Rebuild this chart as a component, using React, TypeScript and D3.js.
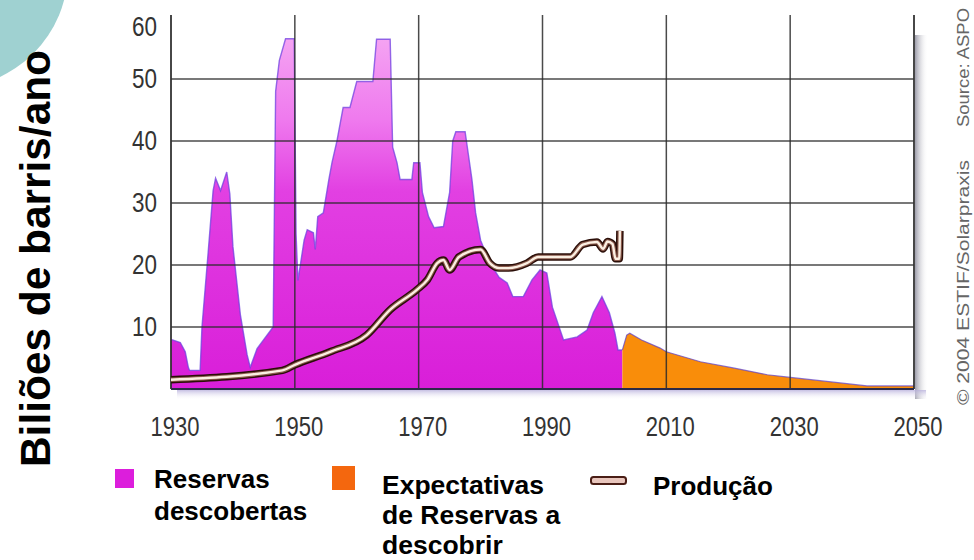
import React from "react";
import * as d3 from "d3";

const W = 974;
const H = 560;

// Reservas descobertas (discoveries), billion barrels/year
const discYears = [
  1930, 1931.5, 1932.3, 1932.8, 1933, 1934.7, 1935, 1936, 1936.8, 1937.2, 1938, 1939, 1939.5, 1940,
  1941.2, 1942.3, 1942.8, 1943.9, 1945, 1946.5, 1946.9, 1947.5, 1948.5, 1949.9, 1950.2, 1950.5,
  1951.5, 1952, 1953, 1953.3, 1953.7, 1954.6, 1955.5, 1956, 1956.8, 1957.8, 1958.9, 1960, 1962.6,
  1963.2, 1965.4, 1965.8, 1966.5, 1967, 1968.9, 1969.2, 1970.2, 1970.6, 1971.6, 1972.5, 1974, 1975,
  1975.5, 1976, 1977.5, 1978, 1978.6, 1979.2, 1980, 1981.5, 1983, 1984.3, 1985.2, 1986.9, 1988.3,
  1989.6, 1990.7, 1991.6, 1993.4, 1995.6, 1997.2, 1998.2, 1999.6, 2000.8, 2001.7, 2002.2, 2002.9,
];
const discValues = [
  8, 7.5, 6, 3.5, 3, 3, 10, 22, 32, 34, 32, 35, 31.5, 23,
  12, 5.5, 3.5, 6.5, 8, 10, 48, 53, 56.5, 56.5, 25, 17.5,
  24, 25.7, 25.2, 22.5, 27.8, 28.4, 33.8, 36.5, 40, 45.4, 45.4, 49.6, 49.6,
  56.4, 56.4, 39, 36.5, 33.8, 33.8, 36.5, 36.5, 31.7, 27.8, 26, 26.2, 31.7,
  40, 41.5, 41.5, 38, 33.8, 28.4, 24, 20.3, 18, 17.1, 14.9, 14.9, 17.6,
  19.2, 18.7, 13.2, 7.9, 8.4, 9.5, 12.3, 14.9, 12.3, 9, 6.3, 6.3,
];

// Expectativas de Reservas a descobrir (expected discoveries)
const futYears = [2002.9, 2003.6, 2004.1, 2006, 2009, 2010, 2015.5, 2020.8, 2026.3, 2029.7, 2037, 2042.4, 2050];
const futValues = [6.3, 8.7, 9, 7.9, 6.6, 6, 4.4, 3.4, 2.3, 1.9, 1.1, 0.5, 0.5];

// Produção (production)
const prodYears = [
  1930, 1948, 1950, 1955.7, 1961.6, 1965.4, 1969.7, 1971.4, 1973, 1974, 1975, 1976.5, 1980, 1981.5,
  1983, 1984.5, 1987.5, 1989.3, 1994.5, 1996.5, 1998.8, 1999.8, 2000.5, 2001.3, 2001.8, 2002.4, 2002.5,
];
const prodValues = [
  1.5, 3, 3.9, 6, 8.7, 12.8, 16, 17.6, 20.3, 20.8, 19.2, 21.3, 22.5, 20.3,
  19.5, 19.5, 20.3, 21.3, 21.3, 23.3, 23.7, 22.6, 23.8, 23.4, 21, 21, 25.5,
];

const xTicks = [1930, 1950, 1970, 1990, 2010, 2030, 2050];
const yTicks = [10, 20, 30, 40, 50, 60];
const gridYears = [1950, 1970, 1990, 2010, 2030];
const gridValues = [10, 20, 30, 40, 50];

const legendItems = [
  { key: "disc", lines: ["Reservas", "descobertas"] },
  { key: "fut", lines: ["Expectativas", "de Reservas a", "descobrir"] },
  { key: "prod", lines: ["Produção"] },
];

const x = d3.scaleLinear().domain([1930, 2050]).range([171, 914]);
const y = d3.scaleLinear().domain([0, 60]).range([389, 17]);

const TICK_FONT = "'Liberation Sans Narrow', 'Arial Narrow', 'Liberation Sans', Arial, sans-serif";
const BOLD_FONT = "'Liberation Sans', Arial, Helvetica, sans-serif";

export default function App() {
  const disc = discYears.map((yr, i) => [yr, discValues[i]] as [number, number]);
  const fut = futYears.map((yr, i) => [yr, futValues[i]] as [number, number]);
  const prod = prodYears.map((yr, i) => [yr, prodValues[i]] as [number, number]);

  const area = d3
    .area<[number, number]>()
    .x((d) => x(d[0]))
    .y0(y(0))
    .y1((d) => y(d[1]));
  const top = d3
    .line<[number, number]>()
    .x((d) => x(d[0]))
    .y((d) => y(d[1]));
  const prodLine = d3
    .line<[number, number]>()
    .x((d) => x(d[0]))
    .y((d) => y(d[1]))
    .curve(d3.curveMonotoneX);

  const x0 = x(1930);
  const x1 = x(2050);
  const yTop = 15;
  const yBot = y(0);

  return (
    <svg
      width={W}
      height={H}
      viewBox={`0 0 ${W} ${H}`}
      style={{ position: "absolute", left: 0, top: 0, background: "#ffffff" }}
    >
      <defs>
        <linearGradient id="magGrad" gradientUnits="userSpaceOnUse" x1="0" y1={y(58)} x2="0" y2={y(0)}>
          <stop offset="0%" stopColor="#f5a8f3" />
          <stop offset="25%" stopColor="#ef7aee" />
          <stop offset="45%" stopColor="#e240e2" />
          <stop offset="100%" stopColor="#d91ed9" />
        </linearGradient>
        <linearGradient id="shadowR" x1="0" y1="0" x2="1" y2="0">
          <stop offset="0%" stopColor="#8c8c9c" stopOpacity="0.85" />
          <stop offset="100%" stopColor="#ffffff" stopOpacity="0" />
        </linearGradient>
        <linearGradient id="shadowB" x1="0" y1="0" x2="0" y2="1">
          <stop offset="0%" stopColor="#b8b0dc" stopOpacity="0.8" />
          <stop offset="100%" stopColor="#ffffff" stopOpacity="0" />
        </linearGradient>
      </defs>

      {/* teal slide decoration */}
      <circle cx={-50} cy={-30} r={118} fill="#9fd1d1" />

      {/* shadows around plot */}
      <rect x={x1 + 1} y={yTop + 20} width={13} height={yBot - yTop - 10} fill="url(#shadowR)" />
      <rect x={x0 + 6} y={yBot + 1} width={x1 - x0 + 6} height={10} fill="url(#shadowB)" />

      {/* discovered reserves */}
      <path d={area(disc) || ""} fill="url(#magGrad)" />
      <path d={top(disc) || ""} fill="none" stroke="#7040e0" strokeWidth={1.4} strokeOpacity={0.75} />

      {/* expected discoveries */}
      <path d={area(fut) || ""} fill="#f98d0a" />
      <path d={top(fut) || ""} fill="none" stroke="#5a3cc8" strokeWidth={1.2} strokeOpacity={0.7} />

      {/* grid */}
      {gridValues.map((v) => (
        <line key={"h" + v} x1={x0} x2={x1} y1={y(v)} y2={y(v)} stroke="#2a2a2a" strokeWidth={1.5} strokeOpacity={0.85} />
      ))}
      {gridYears.map((yr) => (
        <line key={"v" + yr} x1={x(yr)} x2={x(yr)} y1={yTop} y2={yBot} stroke="#2a2a2a" strokeWidth={1.5} strokeOpacity={0.85} />
      ))}
      <line x1={x0} x2={x0} y1={yTop} y2={yBot} stroke="#333" strokeWidth={1.8} />
      <line x1={x1} x2={x1} y1={yTop} y2={yBot} stroke="#333" strokeWidth={1.8} />
      <line x1={x0} x2={x1} y1={yBot} y2={yBot} stroke="#2c2a48" strokeWidth={2} />

      {/* production line */}
      <path d={prodLine(prod) || ""} fill="none" stroke="#2a0e08" strokeWidth={7.5} strokeLinejoin="round" />
      <path d={prodLine(prod) || ""} fill="none" stroke="#8a5a4c" strokeWidth={4.6} strokeLinejoin="round" />
      <path d={prodLine(prod) || ""} fill="none" stroke="#fbefe2" strokeWidth={2.4} strokeLinejoin="round" />

      {/* y tick labels */}
      {yTicks.map((v) => (
        <text
          key={"yt" + v}
          x={157}
          y={y(v) + 8.5 + (v === 60 ? 10 : 0)}
          textAnchor="end"
          fontFamily={TICK_FONT}
          fontSize={27}
          fill="#333"
          textLength={25}
          lengthAdjust="spacingAndGlyphs"
        >
          {v}
        </text>
      ))}

      {/* x tick labels */}
      {xTicks.map((yr) => (
        <text
          key={"xt" + yr}
          x={x(yr) + 4 - 24.5}
          y={436}
          fontFamily={TICK_FONT}
          fontSize={27}
          fill="#333"
          textLength={49}
          lengthAdjust="spacingAndGlyphs"
        >
          {yr}
        </text>
      ))}

      {/* y axis title */}
      <text
        transform="translate(50,467) rotate(-90)"
        fontFamily={BOLD_FONT}
        fontWeight="bold"
        fontSize={43}
        fill="#000"
        textLength={417}
        lengthAdjust="spacingAndGlyphs"
      >
        Biliões de barris/ano
      </text>

      {/* credits */}
      <text
        transform="translate(969,127) rotate(-90)"
        fontFamily={TICK_FONT}
        fontSize={16}
        fill="#666"
        textLength={119}
        lengthAdjust="spacingAndGlyphs"
      >
        Source: ASPO
      </text>
      <text
        transform="translate(969,405) rotate(-90)"
        fontFamily={TICK_FONT}
        fontSize={16}
        fill="#666"
        textLength={245}
        lengthAdjust="spacingAndGlyphs"
      >
        © 2004 ESTIF/Solarpraxis
      </text>

      {/* legend */}
      <rect x={115} y={469} width={19} height={19} fill="#dc1edc" />
      {legendItems[0].lines.map((t, i) => (
        <text key={"l0" + i} x={154} y={488 + i * 32} fontFamily={BOLD_FONT} fontWeight="bold" fontSize={26} fill="#000">
          {t}
        </text>
      ))}
      <rect x={332} y={466} width={23} height={24} fill="#f4670e" />
      {legendItems[1].lines.map((t, i) => (
        <text key={"l1" + i} x={382} y={494 + i * 30} fontFamily={BOLD_FONT} fontWeight="bold" fontSize={26.5} fill="#000">
          {t}
        </text>
      ))}
      <rect x={591} y={477} width={35} height={7} rx={2.5} fill="#e9c6bd" stroke="#4a1e16" strokeWidth={2} />
      {legendItems[2].lines.map((t, i) => (
        <text key={"l2" + i} x={653} y={495 + i * 32} fontFamily={BOLD_FONT} fontWeight="bold" fontSize={26} fill="#000">
          {t}
        </text>
      ))}
    </svg>
  );
}
